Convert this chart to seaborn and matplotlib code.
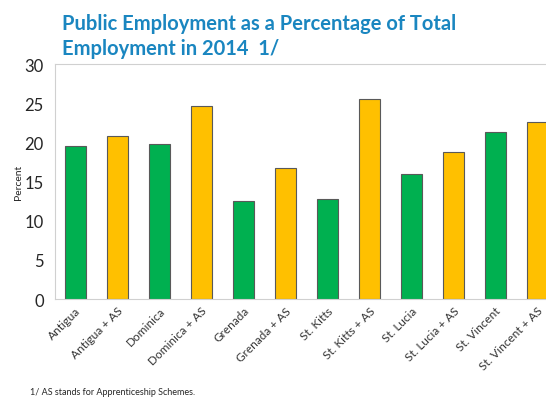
import pandas as pd
import seaborn as sns
import matplotlib.pyplot as plt

countries = ["Antigua", "Antigua + AS", "Dominica", "Dominica + AS", "Grenada",
             "Grenada + AS", "St. Kitts", "St. Kitts + AS", "St. Lucia",
             "St. Lucia + AS", "St. Vincent", "St. Vincent + AS"]
percent = [19.5, 20.8, 19.8, 24.6, 12.5, 16.7, 12.8, 25.5, 16.0, 18.8, 21.3, 22.6]
bar_colors = ["#00B050", "#FFC000"] * 6

sns.set_style("white")
plt.rcParams['font.family'] = ['Lato', 'DejaVu Sans']

df = pd.DataFrame({"Country": countries, "Percent": percent})

fig = plt.figure(figsize=(5.46, 4.02), dpi=100)
ax = fig.add_axes([0.1007, 0.2537, 0.92, 0.5846])
sns.barplot(data=df, x="Country", y="Percent", hue="Country", palette=bar_colors,
            saturation=1, width=0.5, edgecolor="#595959", linewidth=0.8,
            legend=False, ax=ax)

ax.set_ylim(0, 30)
ax.set_xlim(-0.48, 11.48)
ax.set_yticks(range(0, 31, 5))
ax.tick_params(axis="y", labelsize=12, length=0, pad=8)
ax.tick_params(axis="x", labelsize=8.5, length=0, pad=4, labelcolor="#333333")
plt.setp(ax.get_xticklabels(), rotation=45, ha="right", rotation_mode="anchor")
ax.set_xlabel("")
ax.set_ylabel("Percent", fontsize=7.5, labelpad=1)
for side in ["left", "top", "bottom", "right"]:
    ax.spines[side].set_color("#D0D0D0")
    ax.spines[side].set_linewidth(0.8)

fig.text(0.113, 0.965, "Public Employment as a Percentage of Total\nEmployment in 2014  1/",
         fontsize=14.5, fontweight="bold", color="#1A86C0", va="top", ha="left",
         linespacing=1.3)
fig.text(0.055, 0.012, "1/ AS stands for Apprenticeship Schemes.", fontsize=6.5,
         ha="left", va="bottom")

fig.savefig("out.png", dpi=100)
